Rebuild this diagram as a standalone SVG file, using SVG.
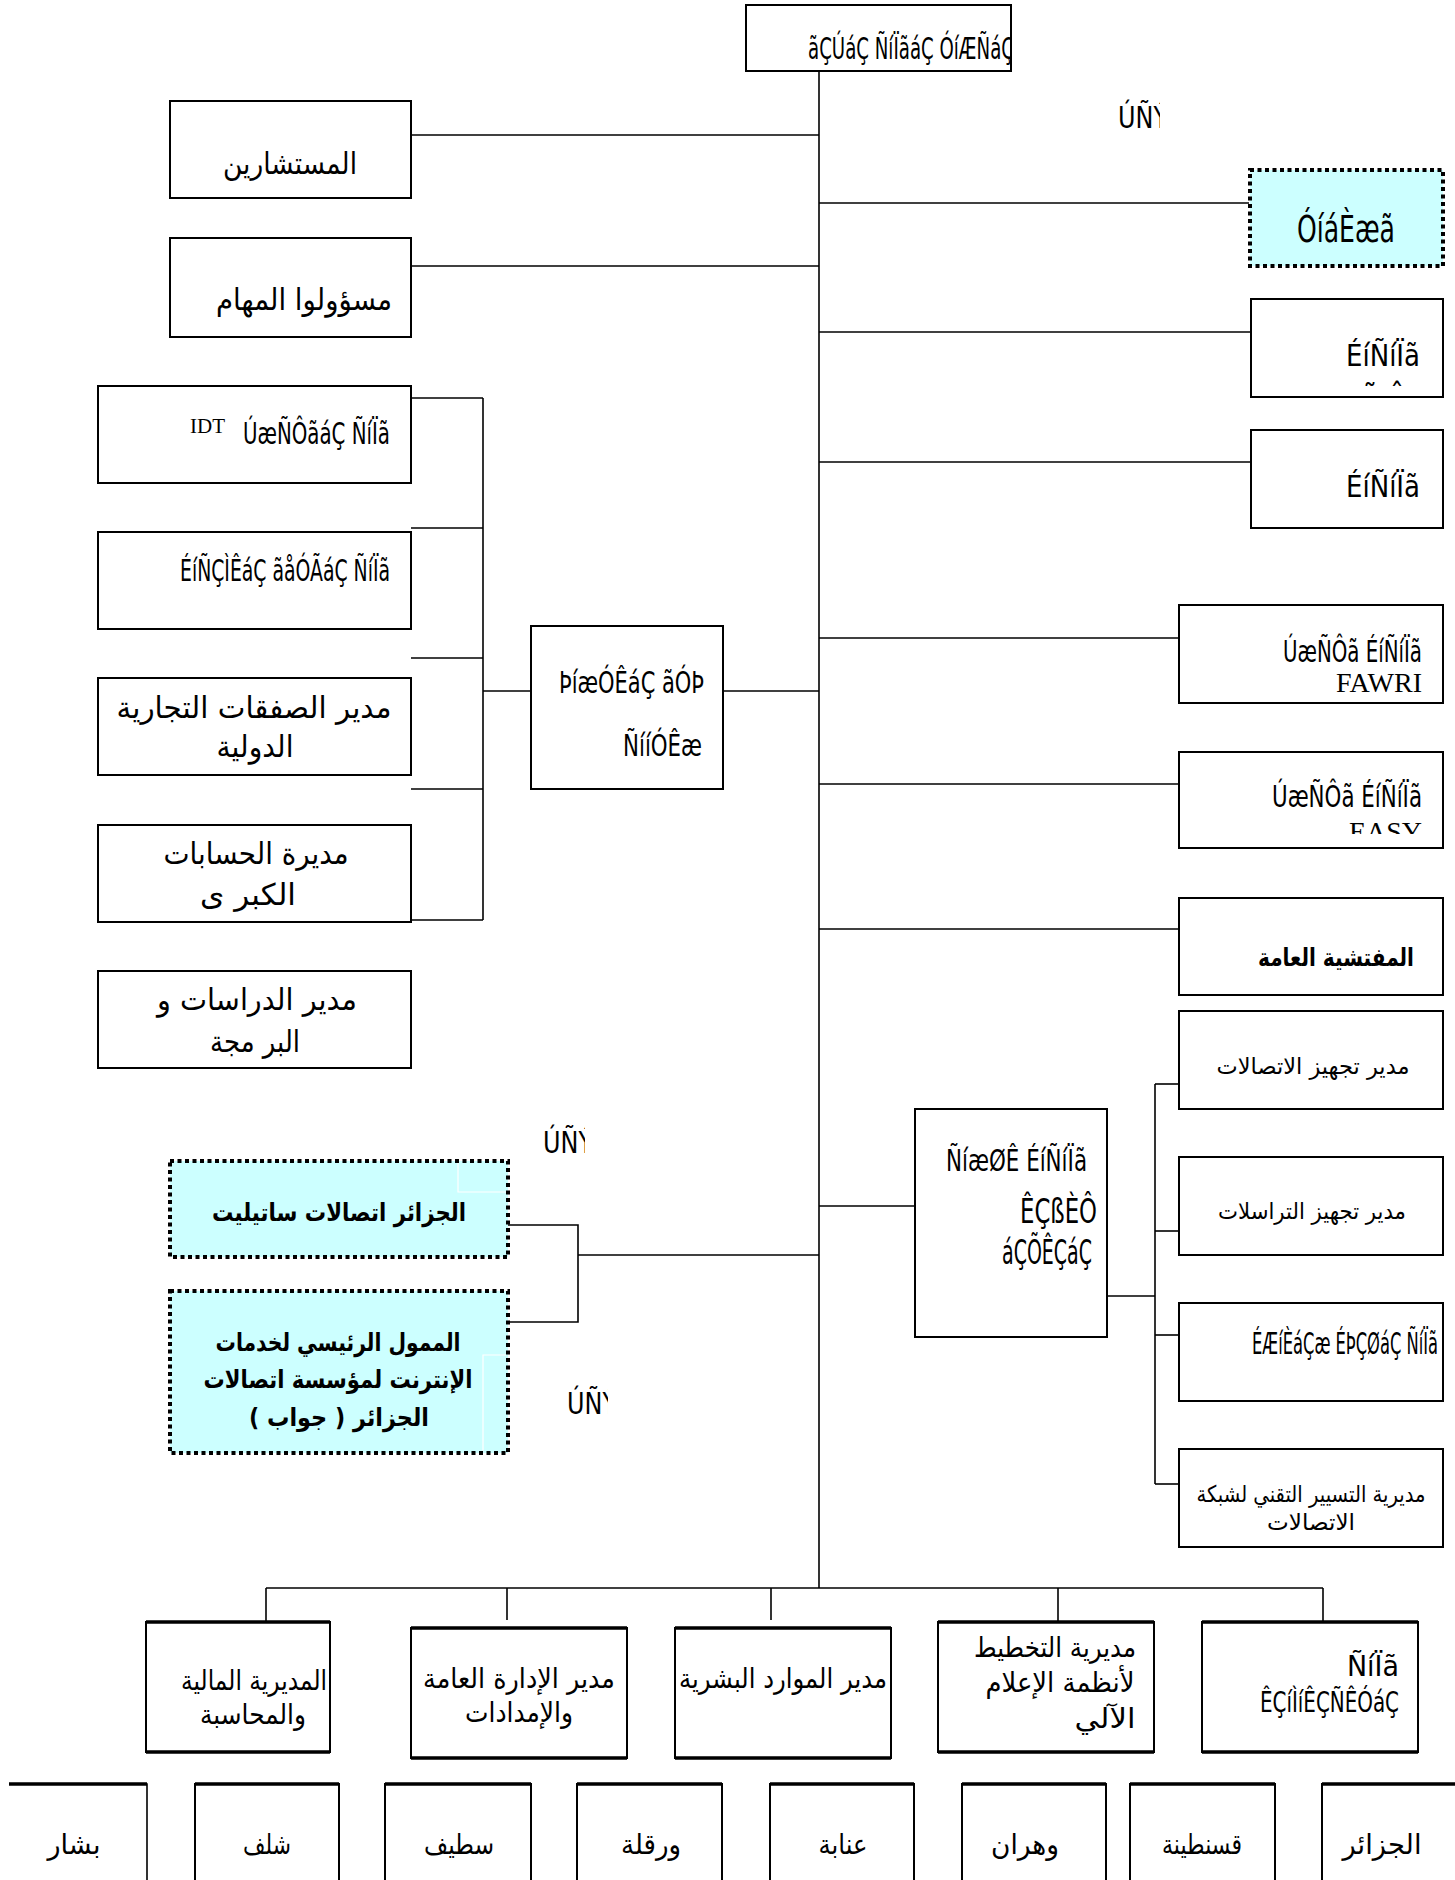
<svg xmlns="http://www.w3.org/2000/svg" width="1455" height="1880" viewBox="0 0 1455 1880">
<style>
.bx{fill:#fff;stroke:#000;stroke-width:2}
.cy{fill:#ccffff;stroke:#000;stroke-width:4;stroke-dasharray:4 3.5}
.ln{stroke:#000;stroke-width:1.6;fill:none}
.thk{stroke:#000;stroke-width:3.5;fill:none}
.wl{stroke:#fff;stroke-width:1.2;fill:none}
.m{font-family:"Liberation Sans Narrow","DejaVu Sans Condensed","Liberation Sans",sans-serif;font-size:31px;fill:#000}
.e{text-anchor:end}
.t{font-family:"Liberation Serif",serif;fill:#000}
.ar{font-family:"DejaVu Sans",sans-serif;font-size:28px;fill:#000;text-anchor:middle}
.a1{font-size:30px}
.a2{font-size:23px}
.b{font-weight:bold;font-size:25px}
</style>
<defs>
<clipPath id="cTop"><rect x="746" y="5" width="265" height="66"/></clipPath>
<clipPath id="cL1"><rect x="1100" y="90" width="60" height="50"/></clipPath>
<clipPath id="cL2"><rect x="530" y="1120" width="55" height="40"/></clipPath>
<clipPath id="cL3"><rect x="555" y="1380" width="53" height="40"/></clipPath>
<clipPath id="cEasy"><rect x="1179" y="752" width="264" height="82"/></clipPath>
</defs>

<g id="connectors">
<line class="ln" x1="819" y1="71" x2="819" y2="1588"/>
<line class="ln" x1="411" y1="135" x2="819" y2="135"/>
<line class="ln" x1="411" y1="266" x2="819" y2="266"/>
<line class="ln" x1="819" y1="203" x2="1249" y2="203"/>
<line class="ln" x1="819" y1="332" x2="1251" y2="332"/>
<line class="ln" x1="819" y1="462" x2="1251" y2="462"/>
<line class="ln" x1="819" y1="638" x2="1179" y2="638"/>
<line class="ln" x1="819" y1="784" x2="1179" y2="784"/>
<line class="ln" x1="819" y1="929" x2="1179" y2="929"/>
<line class="ln" x1="723" y1="691" x2="819" y2="691"/>
<line class="ln" x1="819" y1="1206" x2="915" y2="1206"/>
<line class="ln" x1="578" y1="1255" x2="819" y2="1255"/>
<polyline class="ln" points="508,1225 578,1225 578,1322 508,1322"/>
<line class="ln" x1="483" y1="398" x2="483" y2="920"/>
<line class="ln" x1="411" y1="398" x2="483" y2="398"/>
<line class="ln" x1="411" y1="528" x2="483" y2="528"/>
<line class="ln" x1="411" y1="658" x2="483" y2="658"/>
<line class="ln" x1="411" y1="789" x2="483" y2="789"/>
<line class="ln" x1="411" y1="920" x2="483" y2="920"/>
<line class="ln" x1="483" y1="691" x2="531" y2="691"/>
<line class="ln" x1="1155" y1="1084" x2="1155" y2="1484"/>
<line class="ln" x1="1155" y1="1084" x2="1179" y2="1084"/>
<line class="ln" x1="1155" y1="1231" x2="1179" y2="1231"/>
<line class="ln" x1="1155" y1="1335" x2="1179" y2="1335"/>
<line class="ln" x1="1155" y1="1484" x2="1179" y2="1484"/>
<line class="ln" x1="1107" y1="1296" x2="1155" y2="1296"/>
<line class="ln" x1="266" y1="1588" x2="1323" y2="1588"/>
<line class="ln" x1="266" y1="1588" x2="266" y2="1622"/>
<line class="ln" x1="507" y1="1588" x2="507" y2="1620"/>
<line class="ln" x1="771" y1="1588" x2="771" y2="1620"/>
<line class="ln" x1="1058" y1="1588" x2="1058" y2="1622"/>
<line class="ln" x1="1323" y1="1588" x2="1323" y2="1622"/>
</g>

<g id="n-top">
<rect class="bx" x="746" y="5" width="265" height="66"/>
<text class="m" x="808" y="59" textLength="206" lengthAdjust="spacingAndGlyphs" clip-path="url(#cTop)">ãÇÚáÇ ÑíÏãáÇ ÓíÆÑáÇ</text>
</g>

<g id="n-label1"><text class="m" x="1118" y="128" textLength="50" lengthAdjust="spacingAndGlyphs" clip-path="url(#cL1)">ÚÑÝ</text></g>

<g id="n-mobilis">
<rect class="cy" x="1250" y="170" width="193" height="96"/>
<text class="m" x="1297" y="242" style="font-size:38px" textLength="98" lengthAdjust="spacingAndGlyphs">ÓíáÈæã</text>
</g>

<g id="n-mudiriya1">
<rect class="bx" x="1251" y="299" width="192" height="98"/>
<text class="m e" x="1420" y="366" textLength="74" lengthAdjust="spacingAndGlyphs">ÉíÑíÏã</text>
<text class="m" x="1363" y="405">˜</text>
<text class="m" x="1390" y="405">ˆ</text>
</g>

<g id="n-mudiriya2">
<rect class="bx" x="1251" y="430" width="192" height="98"/>
<text class="m e" x="1420" y="497" textLength="74" lengthAdjust="spacingAndGlyphs">ÉíÑíÏã</text>
</g>

<g id="n-fawri">
<rect class="bx" x="1179" y="605" width="264" height="98"/>
<text class="m e" x="1422" y="662" textLength="139" lengthAdjust="spacingAndGlyphs">ÚæÑÔã ÉíÑíÏã</text>
<text class="t" x="1422" y="692" style="font-size:28px" text-anchor="end">FAWRI</text>
</g>

<g id="n-easy">
<rect class="bx" x="1179" y="752" width="264" height="96"/>
<text class="m e" x="1422" y="807" textLength="150" lengthAdjust="spacingAndGlyphs">ÚæÑÔã ÉíÑíÏã</text>
<text class="t" x="1422" y="841" style="font-size:28px" text-anchor="end" clip-path="url(#cEasy)">EASY</text>
</g>

<g id="n-inspection">
<rect class="bx" x="1179" y="898" width="264" height="97"/>
<text class="ar b" x="1336" y="966" direction="rtl" textLength="156" lengthAdjust="spacingAndGlyphs">المفتشية العامة</text>
</g>

<g id="n-mustasharin">
<rect class="bx" x="170" y="101" width="241" height="97"/>
<text class="ar a1" x="290" y="174" direction="rtl" textLength="134" lengthAdjust="spacingAndGlyphs">المستشارين</text>
</g>

<g id="n-masulu">
<rect class="bx" x="170" y="238" width="241" height="99"/>
<text class="ar a1" x="304" y="310" direction="rtl" textLength="176" lengthAdjust="spacingAndGlyphs">مسؤولوا المهام</text>
</g>

<g id="n-idt">
<rect class="bx" x="98" y="386" width="313" height="97"/>
<text class="t" x="190" y="433" style="font-size:21px">IDT</text>
<text class="m" x="243" y="444" textLength="147" lengthAdjust="spacingAndGlyphs">ÚæÑÔãáÇ ÑíÏã</text>
</g>

<g id="n-tijariya">
<rect class="bx" x="98" y="532" width="313" height="97"/>
<text class="m" x="180" y="581" textLength="210" lengthAdjust="spacingAndGlyphs">ÉíÑÇÌÊáÇ ãåÓÃáÇ ÑíÏã</text>
</g>

<g id="n-safaqat">
<rect class="bx" x="98" y="678" width="313" height="97"/>
<text class="ar a1" x="254" y="718" direction="rtl" textLength="275" lengthAdjust="spacingAndGlyphs">مدير الصفقات التجارية</text>
<text class="ar a1" x="255" y="757" direction="rtl" textLength="77" lengthAdjust="spacingAndGlyphs">الدولية</text>
</g>

<g id="n-hisabat">
<rect class="bx" x="98" y="825" width="313" height="97"/>
<text class="ar a1" x="256" y="864" direction="rtl" textLength="185" lengthAdjust="spacingAndGlyphs">مديرة الحسابات</text>
<text class="ar a1" x="248" y="905" direction="rtl" textLength="96" lengthAdjust="spacingAndGlyphs">الكبر ى</text>
</g>

<g id="n-dirasat">
<rect class="bx" x="98" y="971" width="313" height="97"/>
<text class="ar a1" x="257" y="1010" direction="rtl" textLength="200" lengthAdjust="spacingAndGlyphs">مدير الدراسات و</text>
<text class="ar a1" x="255" y="1052" direction="rtl" textLength="90" lengthAdjust="spacingAndGlyphs">البر مجة</text>
</g>

<g id="n-marketing">
<rect class="bx" x="531" y="626" width="192" height="163"/>
<text class="m" x="559" y="693" textLength="145" lengthAdjust="spacingAndGlyphs">ÞíæÓÊáÇ ãÓÞ</text>
<text class="m" x="623" y="756" textLength="79" lengthAdjust="spacingAndGlyphs">ÑííÓÊæ</text>
</g>

<g id="n-label2"><text class="m" x="543" y="1153" textLength="50" lengthAdjust="spacingAndGlyphs" clip-path="url(#cL2)">ÚÑÝ</text></g>

<g id="n-satellite">
<rect class="cy" x="170" y="1161" width="338" height="96"/>
<polyline class="wl" points="458,1163 458,1192 506,1192"/>
<text class="ar b" x="339" y="1221" direction="rtl" textLength="254" lengthAdjust="spacingAndGlyphs">الجزائر اتصالات ساتيليت</text>
</g>

<g id="n-djaweb">
<rect class="cy" x="170" y="1291" width="338" height="162"/>
<polyline class="wl" points="506,1355 483,1355 483,1451"/>
<text class="ar b" x="338" y="1351" direction="rtl" textLength="245" lengthAdjust="spacingAndGlyphs">الممول الرئيسي لخدمات</text>
<text class="ar b" x="338" y="1388" direction="rtl" textLength="269" lengthAdjust="spacingAndGlyphs">الإنترنت لمؤسسة اتصالات</text>
<text class="ar b" x="339" y="1426" direction="rtl" textLength="180" lengthAdjust="spacingAndGlyphs">الجزائر ( جواب )</text>
</g>

<g id="n-label3"><text class="m" x="567" y="1414" textLength="50" lengthAdjust="spacingAndGlyphs" clip-path="url(#cL3)">ÚÑÝ</text></g>

<g id="n-development">
<rect class="bx" x="915" y="1109" width="192" height="228"/>
<text class="m e" x="1087" y="1171" textLength="141" lengthAdjust="spacingAndGlyphs">ÑíæØÊ ÉíÑíÏã</text>
<text class="m e" x="1097" y="1223" style="font-size:33px" textLength="77" lengthAdjust="spacingAndGlyphs">ÊÇßÈÔ</text>
<text class="m e" x="1092" y="1264" style="font-size:33px" textLength="90" lengthAdjust="spacingAndGlyphs">áÇÕÊÇáÇ</text>
</g>

<g id="n-tajhiz1">
<rect class="bx" x="1179" y="1011" width="264" height="98"/>
<text class="ar a2" x="1313" y="1074" direction="rtl" textLength="193" lengthAdjust="spacingAndGlyphs">مدير تجهيز الاتصالات</text>
</g>

<g id="n-tajhiz2">
<rect class="bx" x="1179" y="1157" width="264" height="98"/>
<text class="ar a2" x="1312" y="1219" direction="rtl" textLength="188" lengthAdjust="spacingAndGlyphs">مدير تجهيز التراسلات</text>
</g>

<g id="n-energy">
<rect class="bx" x="1179" y="1303" width="264" height="98"/>
<text class="m e" x="1438" y="1354" textLength="186" lengthAdjust="spacingAndGlyphs">ÉÆíÈáÇæ ÉÞÇØáÇ ÑíÏã</text>
</g>

<g id="n-tasyir">
<rect class="bx" x="1179" y="1449" width="264" height="98"/>
<text class="ar a2" x="1311" y="1502" direction="rtl" textLength="229" lengthAdjust="spacingAndGlyphs">مديرية التسيير التقني لشبكة</text>
<text class="ar a2" x="1311" y="1530" direction="rtl" textLength="88" lengthAdjust="spacingAndGlyphs">الاتصالات</text>
</g>

<g id="n-finance">
<rect class="bx" x="146" y="1622" width="184" height="130"/>
<line class="thk" x1="146" y1="1622" x2="330" y2="1622"/><line class="thk" x1="146" y1="1752" x2="330" y2="1752"/>
<text class="ar" x="254" y="1690" direction="rtl" textLength="146" lengthAdjust="spacingAndGlyphs">المديرية المالية</text>
<text class="ar" x="253" y="1724" direction="rtl" textLength="106" lengthAdjust="spacingAndGlyphs">والمحاسبة</text>
</g>

<g id="n-admin">
<rect class="bx" x="411" y="1628" width="216" height="130"/>
<line class="thk" x1="411" y1="1628" x2="627" y2="1628"/><line class="thk" x1="411" y1="1758" x2="627" y2="1758"/>
<text class="ar" x="519" y="1688" direction="rtl" textLength="192" lengthAdjust="spacingAndGlyphs">مدير الإدارة العامة</text>
<text class="ar" x="519" y="1722" direction="rtl" textLength="108" lengthAdjust="spacingAndGlyphs">والإمدادات</text>
</g>

<g id="n-hr">
<rect class="bx" x="675" y="1628" width="216" height="130"/>
<line class="thk" x1="675" y1="1628" x2="891" y2="1628"/><line class="thk" x1="675" y1="1758" x2="891" y2="1758"/>
<text class="ar" x="783" y="1688" direction="rtl" textLength="208" lengthAdjust="spacingAndGlyphs">مدير الموارد البشرية</text>
</g>

<g id="n-planning">
<rect class="bx" x="938" y="1622" width="216" height="130"/>
<line class="thk" x1="938" y1="1622" x2="1154" y2="1622"/><line class="thk" x1="938" y1="1752" x2="1154" y2="1752"/>
<text class="ar" x="1055" y="1657" direction="rtl" textLength="162" lengthAdjust="spacingAndGlyphs">مديرية التخطيط</text>
<text class="ar" x="1060" y="1692" direction="rtl" textLength="149" lengthAdjust="spacingAndGlyphs">لأنظمة الإعلام</text>
<text class="ar" x="1105" y="1728" direction="rtl" textLength="61" lengthAdjust="spacingAndGlyphs">الآلي</text>
</g>

<g id="n-strategy">
<rect class="bx" x="1202" y="1622" width="216" height="130"/>
<line class="thk" x1="1202" y1="1622" x2="1418" y2="1622"/><line class="thk" x1="1202" y1="1752" x2="1418" y2="1752"/>
<text class="m e" x="1399" y="1676" style="font-size:29px" textLength="52" lengthAdjust="spacingAndGlyphs">ÑíÏã</text>
<text class="m e" x="1399" y="1712" style="font-size:29px" textLength="139" lengthAdjust="spacingAndGlyphs">ÊÇíÌíÊÇÑÊÓáÇ</text>
</g>

<g id="n-bechar">
<polyline class="ln" points="9,1784 147,1784 147,1880"/><line class="thk" x1="9" y1="1784" x2="147" y2="1784"/>
<text class="ar" x="74" y="1854" direction="rtl" textLength="53" lengthAdjust="spacingAndGlyphs">بشار</text>
</g>
<g id="n-chlef">
<rect class="bx" x="195" y="1784" width="144" height="120"/><line class="thk" x1="195" y1="1784" x2="339" y2="1784"/>
<text class="ar" x="267" y="1854" direction="rtl" textLength="48" lengthAdjust="spacingAndGlyphs">شلف</text>
</g>
<g id="n-setif">
<rect class="bx" x="385" y="1784" width="146" height="120"/><line class="thk" x1="385" y1="1784" x2="531" y2="1784"/>
<text class="ar" x="459" y="1854" direction="rtl" textLength="70" lengthAdjust="spacingAndGlyphs">سطيف</text>
</g>
<g id="n-ouargla">
<rect class="bx" x="577" y="1784" width="145" height="120"/><line class="thk" x1="577" y1="1784" x2="722" y2="1784"/>
<text class="ar" x="651" y="1854" direction="rtl" textLength="60" lengthAdjust="spacingAndGlyphs">ورقلة</text>
</g>
<g id="n-annaba">
<rect class="bx" x="770" y="1784" width="144" height="120"/><line class="thk" x1="770" y1="1784" x2="914" y2="1784"/>
<text class="ar" x="843" y="1854" direction="rtl" textLength="49" lengthAdjust="spacingAndGlyphs">عنابة</text>
</g>
<g id="n-oran">
<rect class="bx" x="962" y="1784" width="144" height="120"/><line class="thk" x1="962" y1="1784" x2="1106" y2="1784"/>
<text class="ar" x="1025" y="1854" direction="rtl" textLength="68" lengthAdjust="spacingAndGlyphs">وهران</text>
</g>
<g id="n-constantine">
<rect class="bx" x="1130" y="1784" width="145" height="120"/><line class="thk" x1="1130" y1="1784" x2="1275" y2="1784"/>
<text class="ar" x="1202" y="1854" direction="rtl" textLength="80" lengthAdjust="spacingAndGlyphs">قسنطينة</text>
</g>
<g id="n-alger">
<rect class="bx" x="1322" y="1784" width="150" height="120"/><line class="thk" x1="1322" y1="1784" x2="1460" y2="1784"/>
<text class="ar" x="1382" y="1854" direction="rtl" textLength="79" lengthAdjust="spacingAndGlyphs">الجزائر</text>
</g>
</svg>
